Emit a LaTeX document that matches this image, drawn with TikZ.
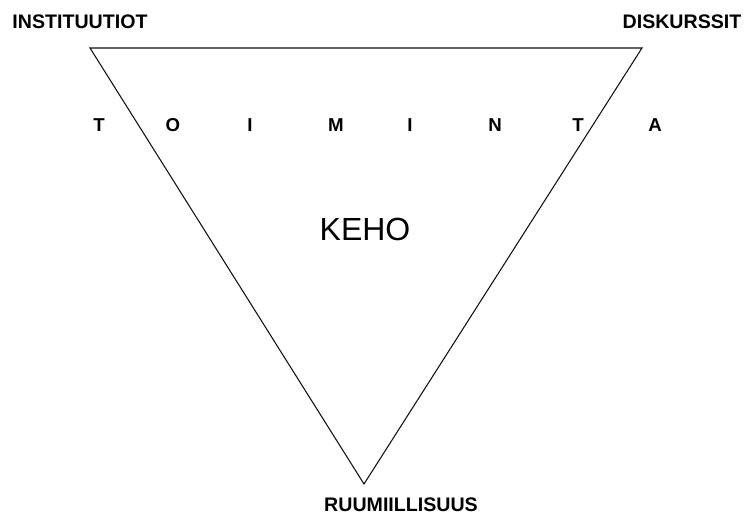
\documentclass[tikz,border=0pt]{standalone}
\usepackage{fontspec}
\setmainfont{Liberation Sans}
\usepackage{xcolor,tikz}
\usetikzlibrary{positioning,calc}
\definecolor{kehoLine}{HTML}{111111}
\definecolor{kehoText}{HTML}{000000}
\tikzset{
  corner label/.style={
    font=\fontsize{14.7}{16}\selectfont\bfseries, text=kehoText,
    inner sep=0pt,
  },
  act letter/.style={
    font=\fontsize{14}{16}\selectfont\bfseries, text=kehoText,
    inner sep=0pt,
  },
  center label/.style={
    font=\fontsize{24}{27}\selectfont, text=kehoText,
    inner sep=0pt,
  },
  tri edge/.style={
    line width=0.8pt, color=kehoLine, line join=miter,
  },
}
\begin{document}
\begin{tikzpicture}[x=0.75pt,y=-0.75pt]
\useasboundingbox (0,0) rectangle (746,515);

% Triangle corners
\coordinate (tl) at (90,48);
\coordinate (tr) at (642,48);
\coordinate (bt) at (364,484);
\draw[tri edge] (tl) -- (tr) -- (bt) -- cycle;

% Corner labels
\node[corner label] (inst) at (80,22) {INSTITUUTIOT};
\node[corner label] (disk) at (682,22) {DISKURSSIT};
\node[corner label] (ruum) at (401,505) {RUUMIILLISUUS};

% Spaced letters across the triangle
\foreach \i/\ch/\x in {1/T/99, 2/O/173, 3/I/250, 4/M/336,
                       5/I/410, 6/N/495, 7/T/578, 8/A/655} {
  \node[act letter] (l\i) at (\x,125) {\ch};
}

% Center
\node[center label] (keho) at (365,229) {KEHO};

\end{tikzpicture}
\end{document}
